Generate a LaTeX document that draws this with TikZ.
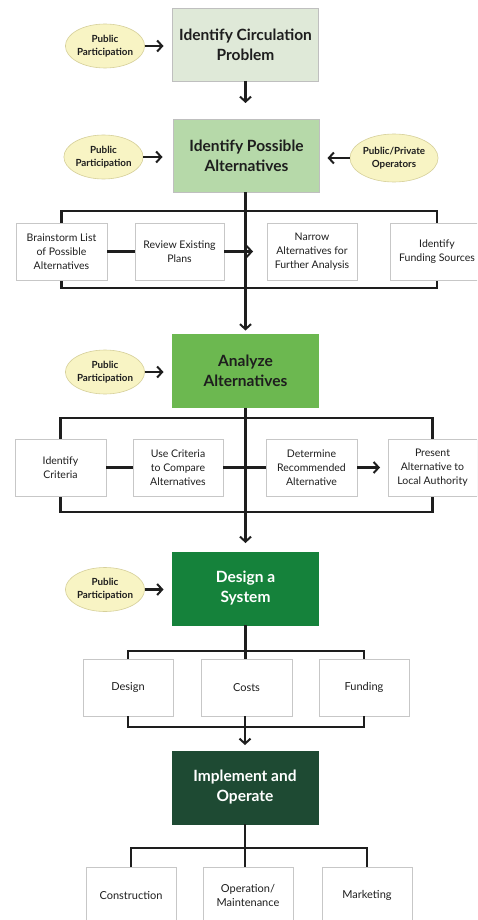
\documentclass[tikz,border=0pt]{standalone}
\usepackage{fontspec}
\setmainfont{Lato}
\usetikzlibrary{arrows.meta,shapes.geometric}
\definecolor{cA}{HTML}{DFE9D8}
\definecolor{cB}{HTML}{B6D9A9}
\definecolor{cC}{HTML}{6CB850}
\definecolor{cD}{HTML}{15823B}
\definecolor{cE}{HTML}{1E4A33}
\definecolor{ppfill}{HTML}{F8F4C4}
\definecolor{ppdraw}{HTML}{D6D09A}
\definecolor{ink}{HTML}{1E1E1E}
\tikzset{
  mainbox/.style={minimum width=146pt, minimum height=73pt, inner sep=0pt, outer sep=0pt,
    align=center, font=\fontsize{15.5}{20}\selectfont\bfseries, draw=black!25, line width=0.6pt},
  subbox/.style={minimum width=90pt, minimum height=57pt, inner sep=0pt, outer sep=0pt,
    align=center, font=\fontsize{10.5}{14}\selectfont, text=ink, draw=black!22, fill=white, line width=0.8pt},
  lowbox/.style={subbox, font=\fontsize{11}{14.5}\selectfont},
  pp/.style={ellipse, minimum width=74pt, minimum height=44pt, inner sep=0pt, outer sep=0pt,
    align=center, font=\fontsize{9.8}{13}\selectfont\bfseries, text=ink, fill=ppfill, draw=ppdraw, line width=0.6pt},
  conn/.style={line width=2.4pt, draw=ink},
  arr/.style={conn, -{Straight Barb[length=5pt,width=11pt,line width=2pt]}},
}
\begin{document}
\begin{tikzpicture}[x=1pt,y=-1pt]
\useasboundingbox (0,0) rectangle (477,920);
\clip (0,0) rectangle (477,920);
\fill[white] (0,0) rectangle (477,920);

% main boxes
\node[mainbox, fill=cA, text=ink] (b1) at (245.5,44.5) {Identify Circulation\\Problem};
\node[mainbox, fill=cB, text=ink] (b2) at (246.5,155.5) {Identify Possible\\Alternatives};
\node[mainbox, fill=cC, text=ink, draw=cC] (b3) at (245.5,371) {Analyze\\Alternatives};
\node[mainbox, fill=cD, text=white, draw=cD] (b4) at (245.5,588.5) {Design a\\System};
\node[mainbox, fill=cE, text=white, draw=cE] (b5) at (245,787.5) {Implement and\\Operate};

% ellipses
\node[pp] (e1) at (105,46) {Public\\Participation};
\node[pp] (e2) at (103.5,157) {Public\\Participation};
\node[pp, minimum width=79pt, minimum height=48pt] (e2r) at (394,158) {Public/Private\\Operators};
\node[pp] (e3) at (105,372) {Public\\Participation};
\node[pp] (e4) at (105,589.5) {Public\\Participation};

\draw[arr, shorten >=9pt] (e1.east) -- (e1.east -| b1.west);
\draw[arr, shorten >=11pt] (e2.east) -- (e2.east -| b2.west);
\draw[arr, shorten >=8pt] (e2r.west) -- (e2r.west -| b2.east);
\draw[arr, shorten >=9pt] (e3.east) -- (e3.east -| b3.west);
\draw[arr, shorten >=9pt] (e4.east) -- (e4.east -| b4.west);

\draw[arr, shorten >=16pt] (b1.south) -- (b1.south |- b2.north);

% group 1: named coordinates for the frame
\coordinate (f1a) at (61.5,211);
\coordinate (f1b) at (437,288);
\draw[conn] (f1a) rectangle (f1b);
\draw[arr, shorten >=4pt] (b2.south -| b3.north) -- (b3.north);
\node[subbox, minimum width=91pt] (bs) at (61.5,251.5) {Brainstorm List\\of Possible\\Alternatives};
\node[subbox, minimum width=89pt] (rv) at (179.5,251.5) {Review Existing\\Plans};
\node[subbox] (nw) at (312,251.5) {Narrow\\Alternatives for\\Further Analysis};
\node[subbox, minimum width=94pt] (fs) at (437,251.5) {Identify\\Funding Sources};
\draw[conn] (bs.east) -- (rv.west);
\draw[arr, shorten >=14pt] (rv.east) -- (nw.west);

% group 2
\coordinate (f2a) at (60.5,418);
\coordinate (f2b) at (432.5,512);
\draw[conn] (f2a) rectangle (f2b);
\draw[arr, shorten >=9pt] (b3.south) -- (b3.south |- b4.north);
\node[subbox, minimum width=91pt] (ic) at (60.5,467.5) {Identify\\Criteria};
\node[subbox] (uc) at (178,467.5) {Use Criteria\\to Compare\\Alternatives};
\node[subbox, minimum width=91pt] (dr) at (311.5,467.5) {Determine\\Recommended\\Alternative};
\node[subbox, minimum width=89pt] (pa) at (432.5,467.5) {Present\\Alternative to\\Local Authority};
\draw[conn] (ic.east) -- (uc.west);
\draw[conn] (uc.east) -- (dr.west);
\draw[arr, shorten >=8pt] (dr.east) -- (pa.west);

% group 3
\node[lowbox] (ds) at (128,687.5) {Design};
\node[lowbox, minimum width=91pt] (co) at (246.5,687.5) {Costs};
\node[lowbox] (fu) at (364,687.5) {Funding};
\draw[conn] (ds.north) -- ++(0,-8) -| (fu.north);
\draw[conn] (b4.south) -- (b4.south |- ds.north);
\draw[conn] (ds.south) -- ++(0,11) -| (fu.south);
\draw[arr, shorten >=6pt] (co.south -| b5.north) -- (b5.north);

% group 4
\node[lowbox] (cn) at (131,895.5) {Construction};
\node[lowbox] (om) at (248,895.5) {Operation/\\Maintenance};
\node[lowbox] (mk) at (367,895.5) {Marketing};
\draw[conn] (cn.north) -- ++(0,-19) -| (mk.north);
\draw[conn] (b5.south) -- (b5.south |- om.north);
\end{tikzpicture}
\end{document}
